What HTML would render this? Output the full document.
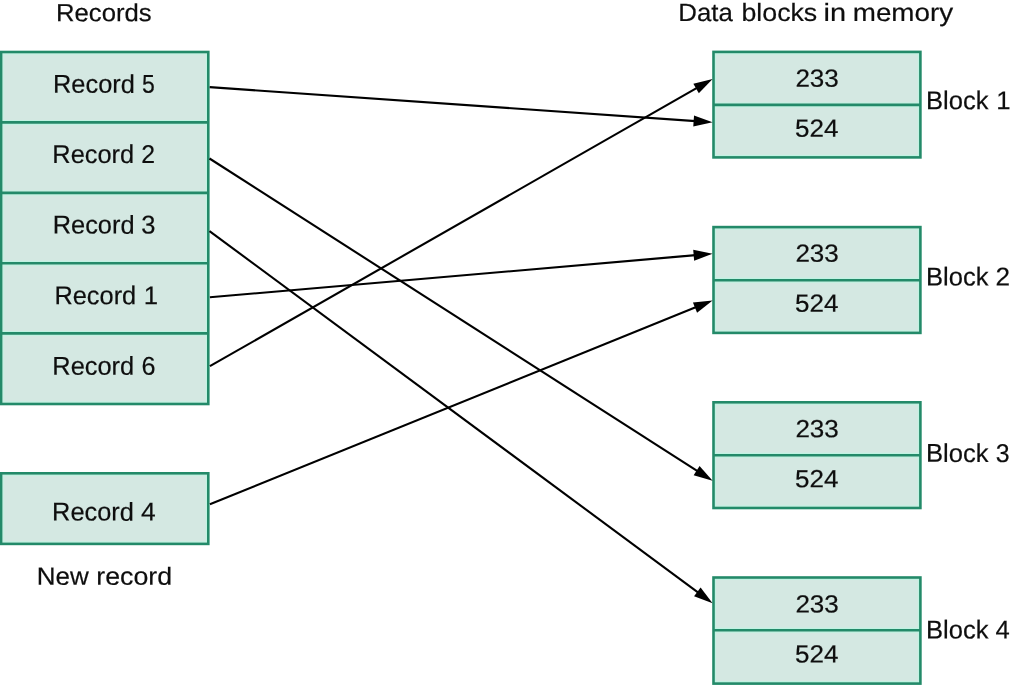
<!DOCTYPE html>
<html><head><meta charset="utf-8"><title>Records to data blocks</title>
<style>html,body{margin:0;padding:0;background:#fff;width:1010px;height:685px;overflow:hidden}svg{display:block;font-family:"Liberation Sans",sans-serif;will-change:transform}</style>
</head><body>
<svg width="1010" height="685" viewBox="0 0 1010 685">
<rect width="1010" height="685" fill="#fff"/>
<rect x="1.1" y="52.0" width="207.20" height="352.00" fill="#d4e8e2"/>
<rect x="1.1" y="473.3" width="207.20" height="70.60" fill="#d4e8e2"/>
<rect x="713.5" y="51.9" width="206.90" height="105.50" fill="#d4e8e2"/>
<rect x="713.5" y="227.1" width="206.90" height="105.80" fill="#d4e8e2"/>
<rect x="713.5" y="402.3" width="206.90" height="105.70" fill="#d4e8e2"/>
<rect x="713.5" y="577.5" width="206.90" height="106.10" fill="#d4e8e2"/>
<g opacity="0.95">
<rect x="3.00" y="53.90" width="203.40" height="348.20" fill="none" stroke="#bff4e2" stroke-width="1.2"/>
<line x1="1.10" y1="120.50" x2="208.30" y2="120.50" stroke="#bff4e2" stroke-width="1.2"/>
<line x1="1.10" y1="124.30" x2="208.30" y2="124.30" stroke="#bff4e2" stroke-width="1.2"/>
<line x1="1.10" y1="191.00" x2="208.30" y2="191.00" stroke="#bff4e2" stroke-width="1.2"/>
<line x1="1.10" y1="194.80" x2="208.30" y2="194.80" stroke="#bff4e2" stroke-width="1.2"/>
<line x1="1.10" y1="261.40" x2="208.30" y2="261.40" stroke="#bff4e2" stroke-width="1.2"/>
<line x1="1.10" y1="265.20" x2="208.30" y2="265.20" stroke="#bff4e2" stroke-width="1.2"/>
<line x1="1.10" y1="331.50" x2="208.30" y2="331.50" stroke="#bff4e2" stroke-width="1.2"/>
<line x1="1.10" y1="335.30" x2="208.30" y2="335.30" stroke="#bff4e2" stroke-width="1.2"/>
<rect x="3.00" y="475.20" width="203.40" height="66.80" fill="none" stroke="#bff4e2" stroke-width="1.2"/>
<rect x="715.40" y="53.80" width="203.10" height="101.70" fill="none" stroke="#bff4e2" stroke-width="1.2"/>
<line x1="713.50" y1="103.00" x2="920.40" y2="103.00" stroke="#bff4e2" stroke-width="1.2"/>
<line x1="713.50" y1="106.80" x2="920.40" y2="106.80" stroke="#bff4e2" stroke-width="1.2"/>
<rect x="715.40" y="229.00" width="203.10" height="102.00" fill="none" stroke="#bff4e2" stroke-width="1.2"/>
<line x1="713.50" y1="278.30" x2="920.40" y2="278.30" stroke="#bff4e2" stroke-width="1.2"/>
<line x1="713.50" y1="282.10" x2="920.40" y2="282.10" stroke="#bff4e2" stroke-width="1.2"/>
<rect x="715.40" y="404.20" width="203.10" height="101.90" fill="none" stroke="#bff4e2" stroke-width="1.2"/>
<line x1="713.50" y1="453.40" x2="920.40" y2="453.40" stroke="#bff4e2" stroke-width="1.2"/>
<line x1="713.50" y1="457.20" x2="920.40" y2="457.20" stroke="#bff4e2" stroke-width="1.2"/>
<rect x="715.40" y="579.40" width="203.10" height="102.30" fill="none" stroke="#bff4e2" stroke-width="1.2"/>
<line x1="713.50" y1="628.40" x2="920.40" y2="628.40" stroke="#bff4e2" stroke-width="1.2"/>
<line x1="713.50" y1="632.20" x2="920.40" y2="632.20" stroke="#bff4e2" stroke-width="1.2"/>
</g>
<rect x="1.1" y="52.0" width="207.20" height="352.00" fill="none" stroke="#238a69" stroke-width="2.6"/>
<line x1="1.1" y1="122.4" x2="208.3" y2="122.4" stroke="#238a69" stroke-width="2.6"/>
<line x1="1.1" y1="192.9" x2="208.3" y2="192.9" stroke="#238a69" stroke-width="2.6"/>
<line x1="1.1" y1="263.3" x2="208.3" y2="263.3" stroke="#238a69" stroke-width="2.6"/>
<line x1="1.1" y1="333.4" x2="208.3" y2="333.4" stroke="#238a69" stroke-width="2.6"/>
<rect x="1.1" y="473.3" width="207.20" height="70.60" fill="none" stroke="#238a69" stroke-width="2.6"/>
<rect x="713.5" y="51.9" width="206.90" height="105.50" fill="none" stroke="#238a69" stroke-width="2.6"/>
<line x1="713.5" y1="104.9" x2="920.4" y2="104.9" stroke="#238a69" stroke-width="2.6"/>
<rect x="713.5" y="227.1" width="206.90" height="105.80" fill="none" stroke="#238a69" stroke-width="2.6"/>
<line x1="713.5" y1="280.2" x2="920.4" y2="280.2" stroke="#238a69" stroke-width="2.6"/>
<rect x="713.5" y="402.3" width="206.90" height="105.70" fill="none" stroke="#238a69" stroke-width="2.6"/>
<line x1="713.5" y1="455.3" x2="920.4" y2="455.3" stroke="#238a69" stroke-width="2.6"/>
<rect x="713.5" y="577.5" width="206.90" height="106.10" fill="none" stroke="#238a69" stroke-width="2.6"/>
<line x1="713.5" y1="630.3" x2="920.4" y2="630.3" stroke="#238a69" stroke-width="2.6"/>
<g fill="#0e0e0e" stroke="#0e0e0e" font-family="Liberation Sans, sans-serif" text-rendering="geometricPrecision">
<text transform="translate(104.40,21.30) rotate(0.06) translate(-48.41,0) scale(1.0315,1)" font-size="24.9" stroke-width="0.2">Records</text>
<text transform="translate(706.60,21.00) rotate(0.06) translate(-28.32,0) scale(1.0365,1)" font-size="24.9" stroke-width="0.2">Data</text>
<text transform="translate(779.75,21.00) rotate(0.06) translate(-38.27,0) scale(1.0738,1)" font-size="24.9" stroke-width="0.2">blocks</text>
<text transform="translate(834.85,21.00) rotate(0.06) translate(-11.28,0) scale(1.1617,1)" font-size="24.9" stroke-width="0.2">in</text>
<text transform="translate(903.85,21.00) rotate(0.06) translate(-51.10,0) scale(1.1165,1)" font-size="24.9" stroke-width="0.2">memory</text>
<text transform="translate(94.15,92.85) rotate(0.06) translate(-41.13,0) scale(0.9837,1)" font-size="25.8" stroke-width="0.2">Record</text>
<text transform="translate(148.25,92.85) rotate(0.06) translate(-6.37,0) scale(0.8911,1)" font-size="25.8" stroke-width="0.2">5</text>
<text transform="translate(93.45,163.00) rotate(0.06) translate(-41.13,0) scale(0.9837,1)" font-size="25.8" stroke-width="0.2">Record</text>
<text transform="translate(148.25,163.00) rotate(0.06) translate(-6.90,0) scale(0.9614,1)" font-size="25.8" stroke-width="0.2">2</text>
<text transform="translate(93.85,233.60) rotate(0.06) translate(-41.13,0) scale(0.9837,1)" font-size="25.8" stroke-width="0.2">Record</text>
<text transform="translate(148.15,233.60) rotate(0.06) translate(-7.02,0) scale(0.9892,1)" font-size="25.8" stroke-width="0.2">3</text>
<text transform="translate(95.55,304.20) rotate(0.06) translate(-41.13,0) scale(0.9837,1)" font-size="25.8" stroke-width="0.2">Record</text>
<text transform="translate(151.15,304.20) rotate(0.06) translate(-7.51,0) scale(0.9979,1)" font-size="25.8" stroke-width="0.2">1</text>
<text transform="translate(93.45,374.70) rotate(0.06) translate(-41.13,0) scale(0.9837,1)" font-size="25.8" stroke-width="0.2">Record</text>
<text transform="translate(148.60,374.70) rotate(0.06) translate(-7.08,0) scale(0.9744,1)" font-size="25.8" stroke-width="0.2">6</text>
<text transform="translate(93.25,520.60) rotate(0.06) translate(-41.13,0) scale(0.9837,1)" font-size="25.8" stroke-width="0.2">Record</text>
<text transform="translate(148.15,520.60) rotate(0.06) translate(-7.26,0) scale(1.0230,1)" font-size="25.8" stroke-width="0.2">4</text>
<text transform="translate(63.85,584.80) rotate(0.06) translate(-27.08,0) scale(1.0433,1)" font-size="24.9" stroke-width="0.2">New</text>
<text transform="translate(134.20,584.80) rotate(0.06) translate(-37.98,0) scale(1.0755,1)" font-size="24.9" stroke-width="0.2">record</text>
<text transform="translate(817.20,86.70) rotate(0.06) translate(-21.81,0) scale(1.0502,1)" font-size="24.8" stroke-width="0.2">233</text>
<text transform="translate(816.90,136.70) rotate(0.06) translate(-21.84,0) scale(1.0490,1)" font-size="24.8" stroke-width="0.2">524</text>
<text transform="translate(817.20,261.70) rotate(0.06) translate(-21.81,0) scale(1.0502,1)" font-size="24.8" stroke-width="0.2">233</text>
<text transform="translate(816.90,311.70) rotate(0.06) translate(-21.84,0) scale(1.0490,1)" font-size="24.8" stroke-width="0.2">524</text>
<text transform="translate(817.20,437.30) rotate(0.06) translate(-21.81,0) scale(1.0502,1)" font-size="24.8" stroke-width="0.2">233</text>
<text transform="translate(816.90,487.30) rotate(0.06) translate(-21.84,0) scale(1.0490,1)" font-size="24.8" stroke-width="0.2">524</text>
<text transform="translate(817.20,612.50) rotate(0.06) translate(-21.81,0) scale(1.0502,1)" font-size="24.8" stroke-width="0.2">233</text>
<text transform="translate(816.90,662.50) rotate(0.06) translate(-21.84,0) scale(1.0490,1)" font-size="24.8" stroke-width="0.2">524</text>
<text transform="translate(958.30,109.30) rotate(0.06) translate(-32.30,0) scale(0.9900,1)" font-size="25.8" stroke-width="0.2">Block</text>
<text transform="translate(1003.75,109.30) rotate(0.06) translate(-7.51,0) scale(0.9979,1)" font-size="25.8" stroke-width="0.2">1</text>
<text transform="translate(958.30,285.60) rotate(0.06) translate(-32.30,0) scale(0.9900,1)" font-size="25.8" stroke-width="0.2">Block</text>
<text transform="translate(1002.85,285.60) rotate(0.06) translate(-7.26,0) scale(1.0125,1)" font-size="25.8" stroke-width="0.2">2</text>
<text transform="translate(958.30,461.90) rotate(0.06) translate(-32.30,0) scale(0.9900,1)" font-size="25.8" stroke-width="0.2">Block</text>
<text transform="translate(1002.60,461.90) rotate(0.06) translate(-6.85,0) scale(0.9647,1)" font-size="25.8" stroke-width="0.2">3</text>
<text transform="translate(958.30,638.50) rotate(0.06) translate(-32.30,0) scale(0.9900,1)" font-size="25.8" stroke-width="0.2">Block</text>
<text transform="translate(1002.55,638.50) rotate(0.06) translate(-7.04,0) scale(0.9922,1)" font-size="25.8" stroke-width="0.2">4</text>
</g>
<line x1="209.7" y1="87.1" x2="695.64" y2="121.11" stroke="#000" stroke-width="2.1"/>
<polygon points="712.60,122.30 693.26,126.46 694.03,115.49" fill="#000"/>
<line x1="209.5" y1="158.5" x2="698.29" y2="471.63" stroke="#000" stroke-width="2.1"/>
<polygon points="712.60,480.80 693.63,475.18 699.57,465.92" fill="#000"/>
<line x1="209.5" y1="231.1" x2="698.93" y2="593.09" stroke="#000" stroke-width="2.1"/>
<polygon points="712.60,603.20 694.05,596.32 700.59,587.48" fill="#000"/>
<line x1="209.9" y1="297.3" x2="695.66" y2="255.17" stroke="#000" stroke-width="2.1"/>
<polygon points="712.60,253.70 694.15,260.82 693.20,249.86" fill="#000"/>
<line x1="209.9" y1="366.2" x2="697.84" y2="87.43" stroke="#000" stroke-width="2.1"/>
<polygon points="712.60,79.00 698.83,93.20 693.37,83.65" fill="#000"/>
<line x1="209.9" y1="504.2" x2="696.85" y2="306.79" stroke="#000" stroke-width="2.1"/>
<polygon points="712.60,300.40 697.06,312.64 692.93,302.44" fill="#000"/>
</svg>
</body></html>
